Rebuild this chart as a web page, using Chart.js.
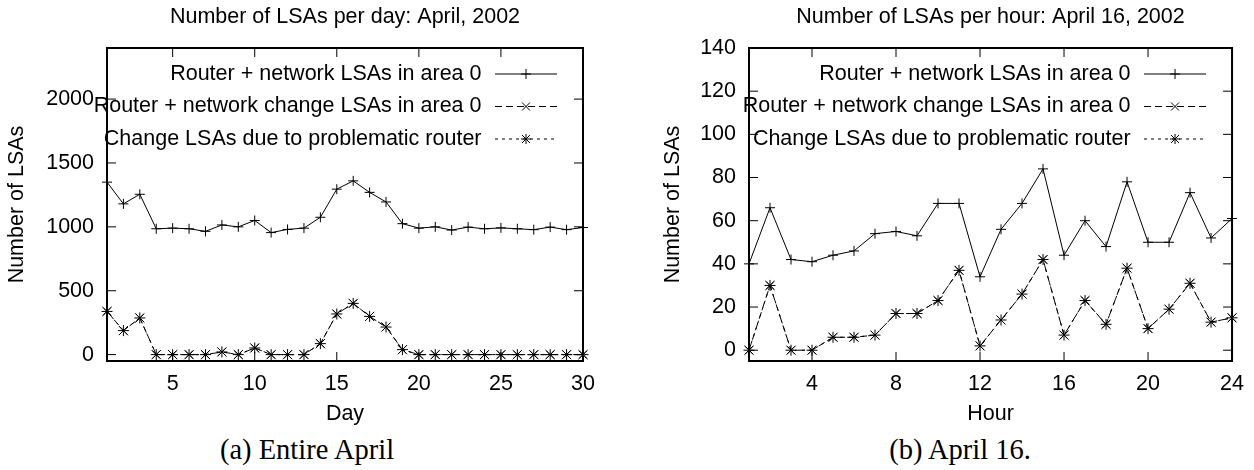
<!DOCTYPE html>
<html>
<head>
<meta charset="utf-8">
<script src="https://cdn.jsdelivr.net/npm/chart.js@4.4.1/dist/chart.umd.min.js"></script>
<style>
  body { margin: 0; background: #fff; width: 1254px; height: 470px; position: relative; overflow: hidden; }
  canvas { position: absolute; top: 0; }
  #dayChart { left: 0; }
  #hourChart { left: 627px; }
  .caption {
    position: absolute; top: 436px; white-space: nowrap; transform: translateX(-50%);
    font-family: "Liberation Serif", "Times New Roman", serif; font-size: 28.5px; line-height: 28.5px; color: #000;
  }
</style>
</head>
<body>
<canvas id="dayChart" width="627" height="430"></canvas>
<canvas id="hourChart" width="627" height="430"></canvas>
<div class="caption" style="left:307px">(a) Entire April</div>
<div class="caption" style="left:960px">(b) April 16.</div>
<script>
// series names (same for both plots)
const seriesNames = [
  'Router + network LSAs in area 0',
  'Router + network change LSAs in area 0',
  'Change LSAs due to problematic router'
];

// (a) per day, April 2002
const days = [1,2,3,4,5,6,7,8,9,10,11,12,13,14,15,16,17,18,19,20,21,22,23,24,25,26,27,28,29,30];
const dayTotal = [1350,1180,1255,985,990,985,965,1015,1000,1050,955,980,990,1075,1295,1360,1270,1195,1025,990,1000,975,998,985,992,985,978,998,978,995];
const dayChange = [338,188,287,0,0,0,0,21,0,52,0,0,0,86,318,401,299,216,39,0,0,0,0,0,0,0,0,0,0,0];
const dayProblem = [338,188,287,0,0,0,0,21,0,52,0,0,0,86,318,401,299,216,39,0,0,0,0,0,0,0,0,0,0,0];
const dayXTicks = [5,10,15,20,25,30];
const dayYTicks = [0,500,1000,1500,2000];

// (b) per hour, April 16
const hours = [1,2,3,4,5,6,7,8,9,10,11,12,13,14,15,16,17,18,19,20,21,22,23,24];
const hourTotal = [40,66,42,41,44,46,54,55,53,68,68,34,56,68,84,44,60,48,78,50,50,73,52,61];
const hourChange = [0,30,0,0,6,6,7,17,17,23,37,2,14,26,42,7,23,12,38,10,19,31,13,15];
const hourProblem = [0,30,0,0,6,6,7,17,17,23,37,2,14,26,42,7,23,12,38,10,19,31,13,15];
const hourXTicks = [4,8,12,16,20,24];
const hourYTicks = [0,20,40,60,80,100,120,140];

const FONT_SIZE = 21.5;
Chart.defaults.font.family = '"Liberation Sans", Arial, sans-serif';
Chart.defaults.font.size = FONT_SIZE;
Chart.defaults.color = '#000';

function drawMarker(ctx, style, x, y, r) {
  ctx.beginPath();
  if (style === 'cross' || style === 'star') {
    ctx.moveTo(x - r, y); ctx.lineTo(x + r, y);
    ctx.moveTo(x, y - r); ctx.lineTo(x, y + r);
  }
  if (style === 'crossRot' || style === 'star') {
    const d = r * 0.8;
    ctx.moveTo(x - d, y - d); ctx.lineTo(x + d, y + d);
    ctx.moveTo(x - d, y + d); ctx.lineTo(x + d, y - d);
  }
  ctx.stroke();
}

// gnuplot-like frame with inward ticks on all four sides, plus the key
const framePlugin = {
  id: 'frame',
  beforeDatasetsDraw(chart) {
    const { ctx, chartArea: a, scales } = chart;
    ctx.save();
    ctx.strokeStyle = '#000';
    ctx.lineWidth = 1;
    ctx.beginPath();
    scales.x.ticks.forEach(t => {
      const px = scales.x.getPixelForValue(t.value);
      ctx.moveTo(px, a.bottom); ctx.lineTo(px, a.bottom - 9);
      ctx.moveTo(px, a.top); ctx.lineTo(px, a.top + 9);
    });
    scales.y.ticks.forEach(t => {
      const py = scales.y.getPixelForValue(t.value);
      ctx.moveTo(a.left, py); ctx.lineTo(a.left + 9, py);
      ctx.moveTo(a.right, py); ctx.lineTo(a.right - 9, py);
    });
    ctx.stroke();
    ctx.lineWidth = 2;
    ctx.strokeRect(a.left, a.top, a.right - a.left, a.bottom - a.top);
    ctx.restore();
  },
  afterDatasetsDraw(chart) {
    const { ctx, chartArea: a } = chart;
    ctx.save();
    ctx.font = FONT_SIZE + 'px "Liberation Sans", Arial, sans-serif';
    ctx.textAlign = 'right';
    ctx.textBaseline = 'middle';
    ctx.fillStyle = '#000';
    ctx.strokeStyle = '#000';
    chart.data.datasets.forEach((ds, i) => {
      const y = a.top + 26 + i * 32.5;
      ctx.fillText(ds.label, a.right - 101.5, y);
      ctx.lineWidth = 1;
      ctx.setLineDash(ds.borderDash || []);
      ctx.beginPath();
      ctx.moveTo(a.right - 88, y); ctx.lineTo(a.right - 26, y);
      ctx.stroke();
      ctx.setLineDash([]);
      drawMarker(ctx, ds.pointStyle, a.right - 57, y, 5);
    });
    ctx.restore();
  }
};

function makeDatasets(xs, total, change, problem) {
  const common = {
    borderColor: '#000', borderWidth: 1, backgroundColor: 'transparent',
    pointBorderColor: '#000', pointBackgroundColor: 'transparent', pointBorderWidth: 1,
    fill: false, tension: 0, clip: false
  };
  return [
    Object.assign({}, common, { label: seriesNames[0], data: xs.map((x, i) => ({ x, y: total[i] })), pointStyle: 'cross', pointRadius: 5 }),
    Object.assign({}, common, { label: seriesNames[1], data: xs.map((x, i) => ({ x, y: change[i] })), pointStyle: 'crossRot', pointRadius: 6.5, borderDash: [7, 4] }),
    Object.assign({}, common, { label: seriesNames[2], data: xs.map((x, i) => ({ x, y: problem[i] })), pointStyle: 'star', pointRadius: 5.5, borderDash: [3, 4] })
  ];
}

function makeChart(id, cfg) {
  return new Chart(document.getElementById(id), {
    type: 'line',
    data: { datasets: makeDatasets(cfg.xs, cfg.total, cfg.change, cfg.problem) },
    options: {
      responsive: false,
      animation: false,
      events: [],
      layout: { padding: { left: 0, right: cfg.padRight, top: 0, bottom: 0 } },
      plugins: {
        legend: { display: false },
        tooltip: { enabled: false },
        title: {
          display: true, text: cfg.title, fullSize: false, color: '#000',
          font: { size: FONT_SIZE, weight: 'normal' }, padding: { top: 4.1, bottom: 18.1 }
        }
      },
      scales: {
        x: {
          type: 'linear', min: cfg.xMin, max: cfg.xMax,
          afterBuildTicks: s => { s.ticks = cfg.xTicks.map(v => ({ value: v })); },
          afterFit: s => { s.height = 69; },
          grid: { display: false, drawTicks: false },
          border: { display: false },
          ticks: { padding: 10, maxRotation: 0, autoSkip: false, color: '#000', callback: v => String(v) },
          title: { display: true, text: cfg.xTitle, color: '#000', padding: { top: 0, bottom: 3.1 } }
        },
        y: {
          type: 'linear', min: cfg.yMin, max: cfg.yMax,
          afterBuildTicks: s => { s.ticks = cfg.yTicks.map(v => ({ value: v })); },
          afterFit: s => { s.width = cfg.yWidth; },
          grid: { display: false, drawTicks: false },
          border: { display: false },
          ticks: { padding: 13, autoSkip: false, color: '#000', callback: v => String(v) },
          title: { display: true, text: 'Number of LSAs', color: '#000', padding: { top: cfg.yTitlePad, bottom: 0 } }
        }
      }
    },
    plugins: [framePlugin]
  });
}

makeChart('dayChart', {
  xs: days, total: dayTotal, change: dayChange, problem: dayProblem,
  xTicks: dayXTicks, yTicks: dayYTicks, xMin: 1, xMax: 30, yMin: -50, yMax: 2400,
  title: 'Number of LSAs per day: April, 2002', xTitle: 'Day',
  padRight: 44, yWidth: 107, yTitlePad: 4.1
});

makeChart('hourChart', {
  xs: hours, total: hourTotal, change: hourChange, problem: hourProblem,
  xTicks: hourXTicks, yTicks: hourYTicks, xMin: 1, xMax: 24, yMin: -5, yMax: 140,
  title: 'Number of LSAs per hour: April 16, 2002', xTitle: 'Hour',
  padRight: 17, yWidth: 122, yTitlePad: 33.1
});
</script>
</body>
</html>
